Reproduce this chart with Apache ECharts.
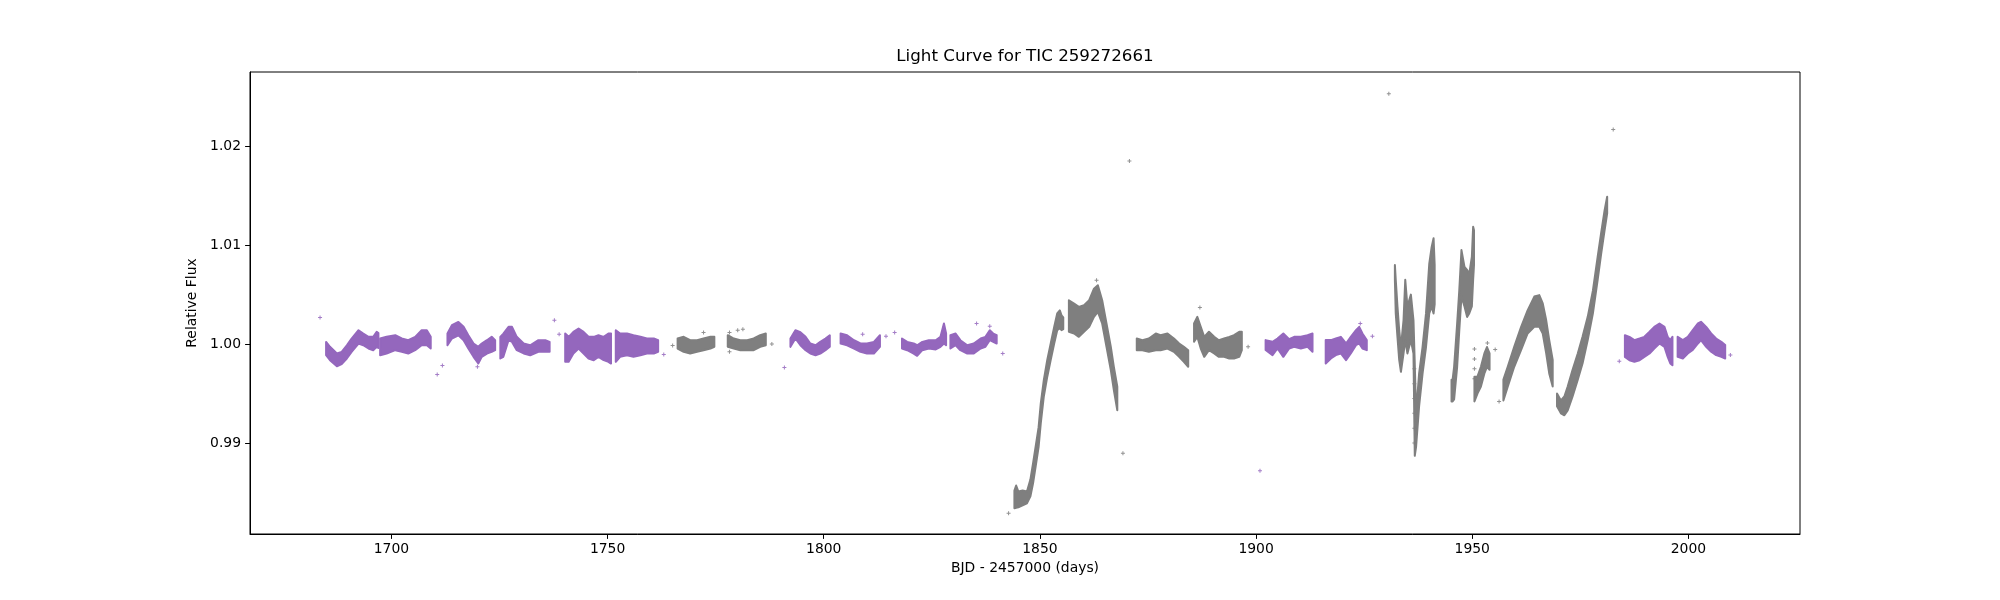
<!DOCTYPE html>
<html>
<head>
<meta charset="utf-8">
<title>Light Curve for TIC 259272661</title>
<script src="https://cdn.jsdelivr.net/npm/echarts@6.0.0/dist/echarts.min.js"></script>
<style>
  html, body { margin: 0; padding: 0; background: #fff; }
  #chart { width: 2000px; height: 600px; }
</style>
</head>
<body>
<div id="chart"></div>
<script>
// light curve, each segment as [time, low edge, high edge] of the point cloud
const seg01 = [[1684.9, 0.99887, 1.00022], [1685.8, 0.99837, 0.99972], [1687.4, 0.99776, 0.99904], [1688.5, 0.99797, 0.99921], [1689.7, 0.99854, 0.99988], [1690.8, 0.99921, 1.00056], [1692.4, 1.00005, 1.00140], [1693.5, 0.99988, 1.00106], [1694.7, 0.99955, 1.00073], [1695.8, 0.99938, 1.00073], [1696.6, 0.99972, 1.00123], [1697.0, 0.99960, 1.00110]]
const seg02 = [[1697.4, 0.99887, 1.00056], [1698.9, 0.99904, 1.00073], [1700.9, 0.99938, 1.00089], [1702.4, 0.99921, 1.00056], [1703.9, 0.99904, 1.00039], [1705.5, 0.99938, 1.00073], [1707.0, 0.99988, 1.00140], [1708.2, 0.99988, 1.00140], [1709.1, 0.99955, 1.00073]]
const seg03 = [[1712.97, 0.99988, 1.00106], [1714.0, 1.00056, 1.00191], [1715.5, 1.00089, 1.00224], [1716.7, 1.00039, 1.00174], [1717.8, 0.99955, 1.00089], [1719.0, 0.99871, 1.00005], [1720.1, 0.99804, 0.99972], [1720.9, 0.99871, 1.00005], [1722.1, 0.99904, 1.00039], [1723.2, 0.99921, 1.00073], [1724.0, 0.99938, 1.00039]]
const seg04 = [[1725.2, 0.99854, 1.00073], [1725.9, 0.99871, 1.00106], [1727.1, 1.00039, 1.00174], [1727.9, 1.00022, 1.00174], [1729.0, 0.99938, 1.00073], [1730.6, 0.99905, 1.00006], [1732.1, 0.99887, 0.99988], [1734.0, 0.99921, 1.00039], [1735.6, 0.99921, 1.00039], [1736.6, 0.99921, 1.00022]]
const seg05 = [[1740.2, 0.99820, 1.00106], [1741.0, 0.99820, 1.00073], [1742.1, 0.99904, 1.00123], [1743.3, 0.99955, 1.00157], [1744.45, 0.99904, 1.00123], [1745.6, 0.99854, 1.00073], [1746.8, 0.99837, 1.00073], [1747.9, 0.99871, 1.00089], [1749.1, 0.99837, 1.00073], [1750.2, 0.99820, 1.00106], [1750.8, 0.99803, 1.00106]]
const seg06 = [[1751.9, 0.99820, 1.00140], [1752.9, 0.99871, 1.00106], [1754.5, 0.99887, 1.00106], [1756.0, 0.99871, 1.00089], [1757.6, 0.99887, 1.00073], [1759.1, 0.99904, 1.00056], [1760.7, 0.99904, 1.00056], [1761.7, 0.99921, 1.00039]]
const seg07 = [[1766.2, 0.99955, 1.00056], [1767.6, 0.99921, 1.00073], [1769.1, 0.99904, 1.00039], [1770.7, 0.99921, 1.00039], [1772.2, 0.99938, 1.00056], [1773.8, 0.99955, 1.00073], [1774.7, 0.99972, 1.00073]]
const seg08 = [[1777.8, 0.99972, 1.00089], [1779.2, 0.99955, 1.00056], [1780.7, 0.99938, 1.00039], [1782.3, 0.99938, 1.00039], [1783.8, 0.99938, 1.00056], [1785.3, 0.99972, 1.00089], [1786.6, 0.99988, 1.00106]]
const seg09 = [[1792.3, 0.99972, 1.00056], [1793.45, 1.00056, 1.00140], [1794.6, 0.99988, 1.00120], [1795.8, 0.99938, 1.00073], [1796.9, 0.99904, 1.00006], [1798.1, 0.99887, 0.99988], [1799.2, 0.99904, 1.00022], [1800.4, 0.99938, 1.00056], [1801.4, 0.99972, 1.00089]]
const seg10 = [[1803.9, 1.00005, 1.00106], [1805.4, 0.99988, 1.00089], [1807.0, 0.99955, 1.00039], [1808.5, 0.99921, 1.00006], [1810.0, 0.99904, 1.00006], [1811.6, 0.99904, 1.00022], [1813.0, 0.99972, 1.00089]]
const seg11 = [[1818.1, 0.99955, 1.00056], [1819.3, 0.99938, 1.00022], [1820.8, 0.99904, 1.00006], [1821.6, 0.99881, 0.99988], [1822.8, 0.99938, 1.00022], [1824.3, 0.99955, 1.00039], [1825.9, 0.99945, 1.00039], [1827.0, 0.99972, 1.00073], [1827.8, 1.00005, 1.00207], [1828.3, 0.99988, 1.00106]]
const seg12 = [[1829.3, 0.99955, 1.00089], [1830.5, 0.99988, 1.00106], [1831.6, 0.99938, 1.00039], [1833.2, 0.99904, 0.99988], [1834.7, 0.99904, 1.00005], [1836.3, 0.99955, 1.00056], [1837.4, 0.99972, 1.00073], [1838.4, 1.00039, 1.00140], [1839.2, 1.00022, 1.00106], [1840.0, 1.00005, 1.00089]]
const seg13 = [[1844.1, 0.98340, 0.98520], [1844.5, 0.98345, 0.98570], [1845.0, 0.98350, 0.98510], [1846.0, 0.98370, 0.98520], [1847.0, 0.98390, 0.98510], [1847.8, 0.98460, 0.98630], [1848.4, 0.98590, 0.98790], [1849.0, 0.98760, 0.98960], [1849.7, 0.98960, 0.99160], [1850.2, 0.99200, 0.99400], [1850.9, 0.99470, 0.99635], [1851.7, 0.99670, 0.99840], [1852.5, 0.99840, 1.00006], [1853.3, 1.00006, 1.00174], [1854.0, 1.00140, 1.00310], [1854.6, 1.00160, 1.00340], [1855.0, 1.00140, 1.00290], [1855.4, 1.00150, 1.00270]]
const seg14 = [[1856.7, 1.00124, 1.00443], [1857.9, 1.00107, 1.00410], [1859.0, 1.00073, 1.00376], [1860.2, 1.00124, 1.00393], [1861.4, 1.00174, 1.00443], [1862.5, 1.00275, 1.00560], [1863.4, 1.00326, 1.00595], [1864.4, 1.00208, 1.00443], [1865.4, 0.99972, 1.00208], [1866.4, 0.99736, 0.99972], [1867.1, 0.99534, 0.99770], [1867.9, 0.99330, 0.99570]]
const seg15 = [[1872.4, 0.99938, 1.00056], [1873.7, 0.99938, 1.00039], [1875.2, 0.99922, 1.00056], [1876.8, 0.99938, 1.00107], [1877.9, 0.99938, 1.00090], [1879.5, 0.99955, 1.00107], [1881.0, 0.99922, 1.00056], [1882.2, 0.99871, 1.00006], [1883.3, 0.99821, 0.99972], [1884.3, 0.99770, 0.99938]]
const seg16 = [[1885.65, 1.00023, 1.00208], [1886.4, 1.00073, 1.00275], [1887.2, 0.99955, 1.00174], [1888.0, 0.99871, 1.00073], [1889.1, 0.99938, 1.00124], [1890.3, 0.99905, 1.00073], [1891.4, 0.99871, 1.00039], [1892.6, 0.99871, 1.00056], [1893.8, 0.99854, 1.00073], [1894.9, 0.99854, 1.00090], [1896.1, 0.99871, 1.00124], [1896.7, 0.99938, 1.00124]]
const seg17 = [[1902.2, 0.99940, 1.00040], [1903.8, 0.99888, 1.00023], [1904.95, 0.99955, 1.00056], [1906.3, 0.99871, 1.00107], [1907.65, 0.99955, 1.00050], [1908.8, 0.99972, 1.00073], [1910.35, 0.99955, 1.00073], [1911.9, 0.99972, 1.00090], [1913.05, 0.99922, 1.00107]]
const seg18 = [[1916.1, 0.99804, 1.00040], [1917.3, 0.99854, 1.00040], [1918.45, 0.99888, 1.00056], [1919.6, 0.99905, 1.00073], [1920.8, 0.99837, 1.00006], [1921.9, 0.99905, 1.00073], [1923.1, 0.99989, 1.00140], [1923.85, 1.00006, 1.00174], [1924.6, 0.99955, 1.00107], [1925.6, 0.99938, 1.00040]]
const seg19 = [[1932.1, 1.00650, 1.00800], [1932.3, 1.00310, 1.00650], [1932.7, 1.00070, 1.00380], [1933.1, 0.99840, 1.00140], [1933.5, 0.99720, 0.99970], [1934.1, 0.99905, 1.00240], [1934.5, 1.00040, 1.00650], [1935.0, 0.99905, 1.00380], [1935.8, 1.00040, 1.00500], [1936.4, 0.99905, 1.00240], [1936.7, 0.98870, 0.99800], [1937.0, 0.98960, 0.99300], [1937.7, 0.99370, 0.99700], [1938.5, 0.99700, 0.99970], [1939.3, 0.99970, 1.00310], [1940.05, 1.00310, 1.00810], [1940.6, 1.00380, 1.00980], [1941.05, 1.00310, 1.01070], [1941.3, 1.00400, 1.00800]]
const seg20 = [[1945.2, 0.99420, 0.99640], [1945.45, 0.99420, 0.99640], [1945.8, 0.99440, 0.99770], [1946.5, 0.99770, 1.00208], [1947.0, 1.00140, 1.00545], [1947.5, 1.00480, 1.00950], [1948.2, 1.00380, 1.00780], [1948.8, 1.00275, 1.00750], [1949.3, 1.00310, 1.00710], [1949.9, 1.00380, 1.00880], [1950.2, 1.00650, 1.01185], [1950.4, 1.00800, 1.01150]]
const seg21 = [[1950.5, 0.99420, 0.99670], [1951.2, 0.99500, 0.99670], [1952.0, 0.99570, 0.99770], [1952.8, 0.99703, 0.99905], [1953.4, 0.99770, 0.99970], [1954.0, 0.99740, 0.99905]]
const seg22 = [[1957.2, 0.99430, 0.99640], [1958.2, 0.99570, 0.99770], [1959.7, 0.99770, 0.99972], [1961.3, 0.99940, 1.00174], [1962.8, 1.00107, 1.00340], [1964.35, 1.00174, 1.00480], [1965.5, 1.00174, 1.00495], [1966.3, 1.00107, 1.00410], [1967.1, 0.99905, 1.00240], [1967.8, 0.99703, 1.00040], [1968.6, 0.99570, 0.99840]]
const seg23 = [[1969.6, 0.99370, 0.99500], [1970.5, 0.99300, 0.99430], [1971.3, 0.99280, 0.99470], [1972.07, 0.99330, 0.99570], [1973.2, 0.99470, 0.99740], [1974.4, 0.99640, 0.99905], [1975.5, 0.99804, 1.00073], [1976.7, 1.00040, 1.00275], [1977.9, 1.00310, 1.00540], [1979.0, 1.00650, 1.00880], [1979.8, 1.00910, 1.01120], [1980.6, 1.01150, 1.01350], [1981.2, 1.01320, 1.01490]]
const seg24 = [[1985.3, 0.99870, 1.00090], [1986.35, 0.99837, 1.00073], [1987.5, 0.99820, 1.00040], [1988.7, 0.99837, 1.00056], [1989.8, 0.99870, 1.00073], [1991.0, 0.99905, 1.00124], [1992.1, 0.99955, 1.00174], [1993.3, 1.00006, 1.00208], [1994.45, 0.99972, 1.00174], [1995.2, 0.99870, 1.00073], [1995.8, 0.99804, 1.00040], [1996.3, 0.99787, 1.00073]]
const seg25 = [[1997.5, 0.99870, 1.00073], [1998.7, 0.99854, 1.00040], [1999.85, 0.99905, 1.00073], [2001.0, 0.99940, 1.00140], [2002.2, 1.00006, 1.00208], [2002.9, 1.00040, 1.00225], [2004.1, 0.99972, 1.00174], [2005.25, 0.99922, 1.00107], [2006.4, 0.99888, 1.00056], [2007.6, 0.99870, 1.00023], [2008.5, 0.99854, 0.99990]]

// which segments were drawn in which colour
const purpleSegs = [seg01, seg02, seg03, seg04, seg05, seg06, seg09, seg10, seg11, seg12, seg17, seg18, seg24, seg25]
const graySegs = [seg07, seg08, seg13, seg14, seg15, seg16, seg19, seg20, seg21, seg22, seg23]

// stray single points
const purpleStray = [[1683.5, 1.00268], [1710.6, 0.99692], [1711.8, 0.99783], [1719.9, 0.99770], [1737.7, 1.00241], [1738.8, 1.00100], [1763.0, 0.99894], [1790.9, 0.99763], [1809.0, 1.00100], [1814.4, 1.00079], [1816.4, 1.00116], [1835.35, 1.00207], [1838.4, 1.00180], [1841.4, 0.99904], [1900.9, 0.98720], [1924.1, 1.00208], [1926.9, 1.00080], [1984.0, 0.99827], [2009.7, 0.99890]]
const grayStray = [[1765.05, 0.99985], [1772.2, 1.00116], [1778.2, 1.00116], [1780.1, 1.00140], [1781.3, 1.00150], [1778.2, 0.99921], [1788.0, 1.00000], [1842.75, 0.98290], [1863.1, 1.00645], [1869.2, 0.98895], [1870.7, 1.01850], [1887.0, 1.00370], [1898.15, 0.99972], [1930.7, 1.02530], [1936.6, 0.99750], [1936.6, 0.99600], [1936.6, 0.99450], [1936.6, 0.99300], [1936.6, 0.99150], [1936.6, 0.99000], [1950.5, 0.99950], [1950.5, 0.99850], [1950.5, 0.99750], [1950.5, 0.99650], [1953.5, 1.00010], [1955.3, 0.99945], [1956.2, 0.99420], [1982.6, 1.02170]]

const xTicks = [1700, 1750, 1800, 1850, 1900, 1950, 2000]
const yTicks = [0.99, 1.00, 1.01, 1.02]

const PURPLE = '#9467bd'
const GRAY = '#7f7f7f'
const FONT = 'DejaVu Sans'
const plusMark = 'path://M1.5,0H2.5V1.5H4V2.5H2.5V4H1.5V2.5H0V1.5H1.5Z'

// one filled band per observing segment
const bandSeries = (segs, color) => ({
  type: 'custom',
  coordinateSystem: 'cartesian2d',
  silent: true,
  data: segs.map(s => [s[0][0], s[0][1]]),
  encode: { x: 0, y: 1 },
  renderItem: (params, api) => {
    const seg = segs[params.dataIndex]
    const top = seg.map(r => api.coord([r[0], r[2]]))
    const bottom = seg.map(r => api.coord([r[0], r[1]])).reverse()
    return {
      type: 'polygon',
      shape: { points: top.concat(bottom) },
      style: { fill: color, stroke: color, lineWidth: 2, lineJoin: 'round' }
    }
  }
})

const strySeries = (pts, color) => ({
  type: 'scatter',
  silent: true,
  data: pts,
  symbol: plusMark,
  symbolSize: 4,
  itemStyle: { color: color, opacity: 0.85 }
})

const myChart = echarts.init(document.getElementById('chart'), null, { renderer: 'canvas' })

const option = {
  animation: false,
  backgroundColor: '#fff',
  textStyle: { fontFamily: FONT, color: '#000' },
  title: {
    text: 'Light Curve for TIC 259272661',
    left: 1025,
    top: 48,
    padding: 0,
    textAlign: 'center',
    textStyle: { fontFamily: FONT, fontSize: 16.7, fontWeight: 'normal', color: '#000' }
  },
  grid: {
    left: 250,
    right: 200,
    top: 72,
    bottom: 66,
    show: true,
    borderColor: '#000',
    borderWidth: 1,
    backgroundColor: 'transparent'
  },
  xAxis: {
    type: 'value',
    min: 1667.3,
    max: 2025.8,
    name: 'BJD - 2457000 (days)',
    nameLocation: 'middle',
    nameGap: 27,
    nameTextStyle: { fontFamily: FONT, fontSize: 13.9, color: '#000' },
    axisLine: { show: true, onZero: false, lineStyle: { color: '#000', width: 1 } },
    axisTick: { show: true, inside: false, length: 4.9, customValues: xTicks, lineStyle: { color: '#000' } },
    axisLabel: { customValues: xTicks, margin: 8, fontFamily: FONT, fontSize: 13.9, color: '#000', formatter: v => String(v) },
    splitLine: { show: false }
  },
  yAxis: {
    type: 'value',
    min: 0.9808,
    max: 1.0275,
    name: 'Relative Flux',
    nameLocation: 'middle',
    nameGap: 47,
    nameTextStyle: { fontFamily: FONT, fontSize: 13.9, color: '#000' },
    axisLine: { show: true, onZero: false, lineStyle: { color: '#000', width: 1 } },
    axisTick: { show: true, inside: false, length: 4.9, customValues: yTicks, lineStyle: { color: '#000' } },
    axisLabel: { customValues: yTicks, margin: 9, fontFamily: FONT, fontSize: 13.9, color: '#000', formatter: v => v.toFixed(2) },
    splitLine: { show: false }
  },
  series: [
    bandSeries(purpleSegs, PURPLE),
    bandSeries(graySegs, GRAY),
    strySeries(purpleStray, PURPLE),
    strySeries(grayStray, GRAY)
  ]
}

myChart.setOption(option)
</script>
</body>
</html>
